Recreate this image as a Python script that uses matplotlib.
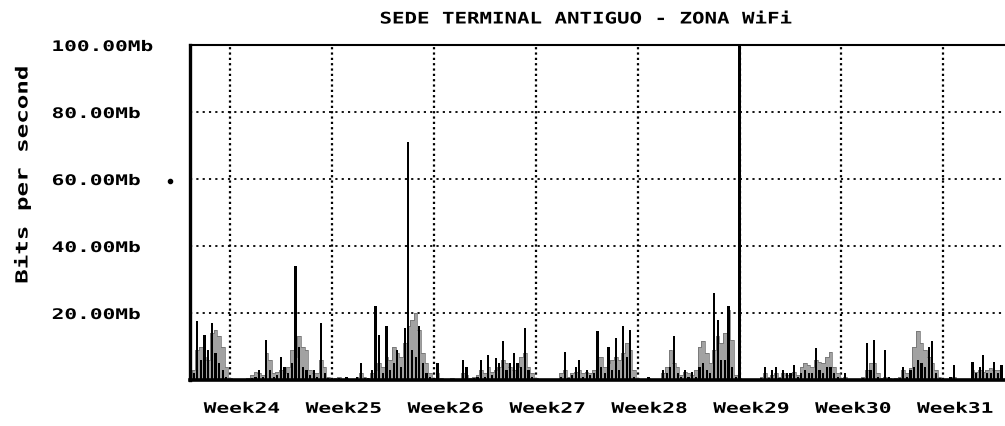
import numpy as np
import matplotlib
matplotlib.use("Agg")
import matplotlib.pyplot as plt
from matplotlib.patheffects import AbstractPathEffect
from matplotlib.transforms import Affine2D
from matplotlib.lines import Line2D

# ---- data -------------------------------------------------------------
title = "SEDE TERMINAL ANTIGUO - ZONA WiFi"
y_label = "Bits per second"
y_ticks = [20, 40, 60, 80, 100]
y_tick_labels = ["20.00Mb", "40.00Mb", "60.00Mb", "80.00Mb", "100.00Mb"]
week_starts = [0, 7, 14, 21, 28, 35, 42, 49]          # days
week_labels = ["Week24", "Week25", "Week26", "Week27",
               "Week28", "Week29", "Week30", "Week31"]

sample_start_day = -2.75      # first sample, days relative to start of Week24
sample_step_day = 0.25        # 6-hour averages

# incoming traffic (Mb/s), drawn as grey area
traffic_in = [
    0, 3, 9, 10, 7, 6, 14, 15, 13, 10, 4, 0.5, 0.3, 0.2,
    0.3, 0.2, 0.5, 1.5, 2.5, 2, 1.5, 8, 6, 2, 2.5, 3, 2, 4,
    9, 7, 13, 10, 9, 3, 2, 2, 6, 4, 1, 0.3, 0.5, 1,
    0.3, 0.5, 0.3, 0.3, 1, 2, 1, 0.5, 2, 3, 5, 4, 7, 6,
    10, 8, 7, 11, 16, 18, 20, 15, 8, 5, 2, 0.5, 2, 0.5,
    0.3, 0.3, 0.5, 0.3, 0.3, 2, 1.5, 0.5, 1, 1.5, 3, 2, 4, 2.5,
    3, 4, 6, 5, 4, 3, 4, 7, 8, 4, 2, 0.5, 0.2, 0.2,
    0.3, 0.2, 0.2, 0.3, 2, 3, 1, 2, 2.5, 3, 2, 2.5, 2, 3,
    7, 7, 4, 5, 6, 7, 6, 8, 11, 9, 3, 0.5, 0.3, 0.3,
    0.5, 0.2, 0.2, 0.3, 2, 4, 9, 5, 4, 1.5, 2.5, 2, 1.5, 3,
    10, 11.5, 8, 5, 9, 13, 11, 14, 21, 12, 1.5, 0.5, 0.3, 0.2,
    0.2, 0.3, 0.2, 1, 2, 1, 1.5, 2, 1, 2, 1.5, 1.5, 2.5, 1.5,
    4, 5, 4.5, 4, 6, 5.5, 5, 7, 8.5, 4, 2, 0.5, 1, 0.2,
    0.2, 0.3, 0.2, 1, 3, 5, 5, 2, 0.5, 1, 0.5, 0.3, 0.5, 1,
    3, 2, 3.5, 10, 14.5, 11, 9, 7, 5, 3, 1, 0.3, 0.2, 0.5,
    1, 0.3, 0.2, 0.2, 0.3, 3, 2.5, 3, 2.5, 3, 3.5, 3, 3, 3.5,
]

# outgoing traffic (Mb/s), drawn as black spikes
traffic_out = [
    0, 2, 17.5, 6, 13.5, 9, 17, 8, 5, 3, 1, 0.3, 0.2, 0.2,
    0.2, 0.2, 0.3, 0.5, 1, 3, 1, 12, 3, 1, 1.5, 7, 4, 2,
    5, 34, 10, 4, 3, 1.5, 3, 1, 17, 2, 0.5, 0.3, 0.2, 0.5,
    0.2, 1, 0.2, 0.2, 1, 5, 0.5, 0.5, 3, 22, 13.5, 2, 16, 3,
    5, 9, 4, 15.5, 71, 9, 7, 16, 5, 2, 1, 0.5, 5, 0.3,
    0.2, 0.2, 0.3, 0.2, 0.2, 6, 4, 0.3, 0.5, 1, 6, 1, 7.5, 1.5,
    6.5, 5, 11.5, 3, 5, 8, 5, 4, 15.5, 3, 1, 0.3, 0.2, 0.2,
    0.2, 0.2, 0.2, 0.2, 1, 8.5, 0.5, 1.5, 4, 6, 1, 3, 1.5, 2,
    14.5, 4, 2, 10, 3, 12.5, 3, 16, 7, 15, 1, 0.3, 0.2, 0.2,
    1, 0.2, 0.2, 0.2, 3, 2, 4, 13, 2, 1, 3, 1, 2.5, 1,
    4, 5, 3, 2, 26, 18, 6, 6, 22, 4, 1, 100, 0.2, 0.2,
    0.2, 0.2, 0.2, 0.5, 4, 0.5, 3, 4, 0.5, 3, 2, 2, 4.5, 1,
    2, 3, 2, 2, 9.5, 3, 2, 4, 4, 2, 1, 0.3, 2, 0.2,
    0.2, 0.2, 0.2, 0.5, 11, 3, 12, 1, 0.3, 9, 1, 0.3, 0.3, 0.5,
    4, 1, 3, 4, 6, 5, 4, 10, 11.5, 2, 0.5, 0.2, 0.2, 1,
    4.5, 0.3, 0.2, 0.2, 0.2, 5.5, 2, 4, 7.5, 2, 2, 5.5, 2, 4.5,
]


# ---- wide bitmap-style lettering ---------------------------------------
class Widen(AbstractPathEffect):
    """Stretch a text's glyph outline along one axis around an anchor."""

    def __init__(self, factor, axis="x", anchor=0.5):
        super().__init__()
        self.factor = factor
        self.axis = axis
        self.anchor = anchor

    def draw_path(self, renderer, gc, tpath, affine, rgbFace=None):
        ext = tpath.get_extents(affine)
        if self.axis == "x":
            c = ext.x0 + self.anchor * (ext.x1 - ext.x0)
            st = Affine2D().translate(-c, 0).scale(self.factor, 1).translate(c, 0)
        else:
            c = ext.y0 + self.anchor * (ext.y1 - ext.y0)
            st = Affine2D().translate(0, -c).scale(1, self.factor).translate(0, c)
        renderer.draw_path(gc, tpath, affine + st, rgbFace)


FONT = dict(family="DejaVu Sans Mono", weight="bold")

W, H = 1005, 427
fig = plt.figure(figsize=(W / 100, H / 100), dpi=100)
fig.patch.set_facecolor("white")

px_per_day = 101.9 / 7.0
x_left = -40 / px_per_day
x_right = 775 / px_per_day

ax = fig.add_axes([190 / W, 46 / H, 815 / W, 335 / H])
ax.set_xlim(x_left, x_right)
ax.set_ylim(0, 100)
ax.set_facecolor("white")

t = sample_start_day + sample_step_day * np.arange(len(traffic_in))

# grid
for yv in y_ticks[:-1]:
    ax.axhline(yv, color="black", lw=1.3, ls=(0, (1.2, 2.3)), zorder=1)
for d in week_starts:
    ax.axvline(d, color="black", lw=1.6, ls=(0, (1.0, 1.4)), zorder=1)

# traffic
ax.fill_between(t, traffic_in, step="mid", color="#a2a2a2", lw=0, zorder=2)
ax.step(t, traffic_in, where="mid", color="#6a6a6a", lw=0.5, zorder=2.5)
ax.bar(t, traffic_out, width=0.15, color="black", lw=0, zorder=3)

# frame
for side in ("right",):
    ax.spines[side].set_visible(False)
ax.spines["left"].set_linewidth(2.4)
ax.spines["bottom"].set_linewidth(2.6)
ax.spines["top"].set_linewidth(1.5)
for s in ax.spines.values():
    s.set_zorder(5)

# y tick labels (left aligned, far left of the frame)
ax.set_yticks(y_ticks)
ax.set_yticklabels(y_tick_labels, **FONT, fontsize=10.5)
ax.tick_params(axis="y", length=0, pad=138 * 72 / 100)
for lab in ax.get_yticklabels():
    lab.set_ha("left")
    lab.set_path_effects([Widen(1.45, "x", 0.0)])

# week labels along the bottom
ax.set_xticks([d + 0.8 for d in week_starts])
ax.set_xticklabels(week_labels, **FONT, fontsize=10.5)
ax.tick_params(axis="x", length=0, pad=15)
for lab in ax.get_xticklabels():
    lab.set_path_effects([Widen(1.45, "x", 0.5)])

# title and axis label
fig.text(586 / W, 1 - 20 / H, title, ha="center", va="center",
         fontsize=11.5, path_effects=[Widen(1.3, "x", 0.5)], **FONT)
fig.text(22 / W, 1 - 176 / H, y_label, ha="center", va="center",
         rotation=90, fontsize=12, path_effects=[Widen(1.45, "y", 0.5)], **FONT)

# small stray dot beside the 60 Mb label
fig.add_artist(Line2D([170 / W], [1 - 182 / H], marker="o", ms=3,
                      color="black", transform=fig.transFigure))

fig.savefig("out.png", dpi=100, facecolor="white")
